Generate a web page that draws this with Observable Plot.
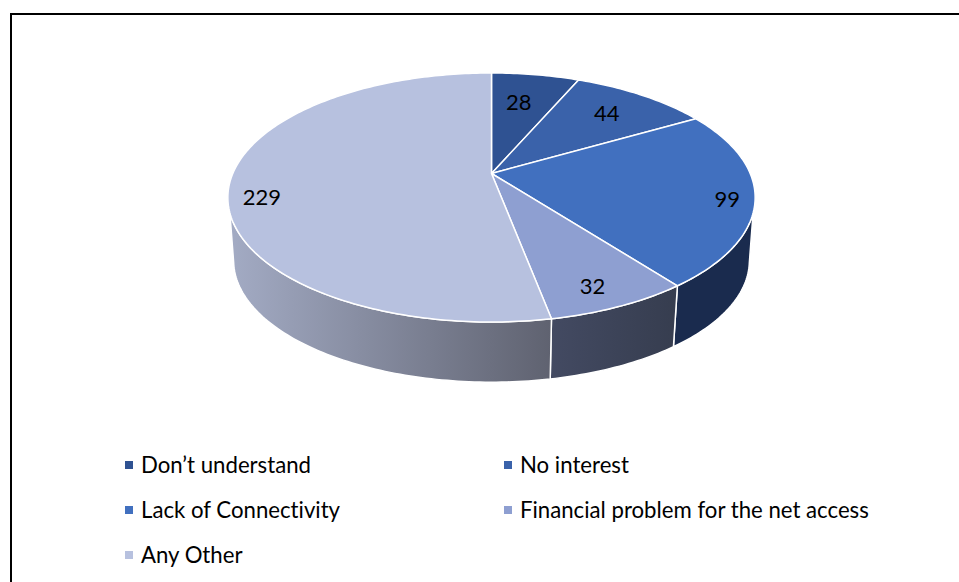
<!DOCTYPE html>
<html>
<head>
<meta charset="utf-8">
<script src="https://cdn.jsdelivr.net/npm/d3@7"></script>
<script src="https://cdn.jsdelivr.net/npm/@observablehq/plot@0.6"></script>
<style>
  html, body { margin: 0; padding: 0; background: #fff; overflow: hidden; }
  #frame { position: absolute; left: 10px; top: 13px; width: 1000px; height: 600px;
           border-left: 2px solid #000; border-top: 2px solid #000; box-sizing: border-box; }
  #chart { position: absolute; left: 0; top: 0; }
  #legend { position: absolute; left: 125px; top: 442px; display: grid;
            grid-template-columns: 379px auto; grid-auto-rows: 45px;
            font: 22.2px Lato, sans-serif; font-variant-ligatures: none; color: #000; }
  #legend div { display: flex; align-items: center; white-space: nowrap; }
  #legend i { display: inline-block; width: 8px; height: 8px; margin-right: 8px; }
</style>
</head>
<body>
<div id="frame"></div>
<div id="chart"></div>
<div id="legend"></div>
<script>
const categories = ["Don’t understand", "No interest", "Lack of Connectivity", "Financial problem for the net access", "Any Other"];
const counts = [28, 44, 99, 32, 229];
const topColors = ["#2f5292", "#3a62aa", "#4170bf", "#8e9fd1", "#b7c1df"];
const sideFrom = ["#1b2c50", "#1b2c50", "#1a2b4e", "#434a62", "#a3abc4"];
const sideTo = ["#1b2c50", "#1b2c50", "#1a2b4e", "#363d4f", "#5f6270"];
const labelRadius = [0.672, 0.736, 0.899, 0.864, 0.876];
const labelShift = [-1.5, 0.3, 2.2, 1.7, -7.4];

const W = 959, H = 440;
// Perspective of the disc: top face and bottom face
const topFace = {cx: 491, cy: 173, A: 258.7, B: 119.9, k: 0.1927};
const botFace = {cx: 491, cy: 236.6, A: 253, B: 117, k: 0.1935};
const rad = d => d * Math.PI / 180;
function project(face, deg, r = 1) {
  const s = Math.sin(rad(deg)) * r, c = Math.cos(rad(deg)) * r, w = 1 + face.k * c;
  return {x: face.cx + face.A * s / w, y: face.cy - face.B * c / w};
}
function arc(face, a, b) {
  const n = Math.max(2, Math.ceil(Math.abs(b - a)));
  return d3.range(n + 1).map(i => project(face, a + (b - a) * i / n));
}
const total = d3.sum(counts);
let run = 0;
const slices = counts.map((v, i) => {
  const a0 = run / total * 360; run += v;
  const a1 = run / total * 360;
  return {i, v, a0, a1, mid: (a0 + a1) / 2};
});
// visible side runs between these rim angles
const sideTopStart = 108, sideBotStart = 102, sideTopEnd = 252, sideBotEnd = 258;
const clip = (a, lo, hi) => Math.min(hi, Math.max(lo, a));
const sides = slices.filter(s => s.a1 > sideBotStart && s.a0 < sideBotEnd).map(s => {
  const t0 = clip(s.a0, sideTopStart, sideTopEnd), t1 = clip(s.a1, sideTopStart, sideTopEnd);
  const b0 = clip(s.a0, sideBotStart, sideBotEnd), b1 = clip(s.a1, sideBotStart, sideBotEnd);
  const poly = [...arc(topFace, t0, t1), ...arc(botFace, b1, b0)];
  return {...s, poly, xs: d3.extent(poly, d => d.x)};
});
const faces = slices.map(s => ({...s, poly: [{x: topFace.cx, y: topFace.cy}, ...arc(topFace, s.a0, s.a1)]}));
const labels = slices.map(s => ({v: s.v, ...project(topFace, s.mid + labelShift[s.i], labelRadius[s.i])}));

const chart = Plot.plot({
  width: W, height: H,
  margin: 0,
  x: {domain: [0, W], range: [0, W], axis: null},
  y: {domain: [0, H], range: [0, H], axis: null},
  style: {background: "transparent", overflow: "visible"},
  marks: [
    () => {
      const defs = d3.create("svg:defs");
      sides.forEach(s => {
        const g = defs.append("linearGradient").attr("id", "side" + s.i)
          .attr("gradientUnits", "userSpaceOnUse")
          .attr("x1", s.xs[0]).attr("x2", s.xs[1]).attr("y1", 0).attr("y2", 0);
        g.append("stop").attr("offset", 0).attr("stop-color", sideFrom[s.i]);
        g.append("stop").attr("offset", 1).attr("stop-color", sideTo[s.i]);
      });
      return defs.node();
    },
    ...sides.map(s => Plot.line(s.poly, {x: "x", y: "y", curve: "linear-closed", fill: `url(#side${s.i})`, stroke: "#fff", strokeWidth: 1.5, strokeLinejoin: "round"})),
    ...faces.map(s => Plot.line(s.poly, {x: "x", y: "y", curve: "linear-closed", fill: topColors[s.i], stroke: "#fff", strokeWidth: 1.5, strokeLinejoin: "round"})),
    Plot.text(labels, {x: "x", y: "y", text: d => String(d.v), fontSize: 22, fontFamily: "Lato, sans-serif", fill: "#000"})
  ]
});
document.getElementById("chart").append(chart);

const legend = d3.select("#legend");
categories.forEach((c, i) => {
  const row = legend.append("div");
  row.append("i").style("background", topColors[i]);
  row.append("span").text(c);
});
</script>
</body>
</html>
